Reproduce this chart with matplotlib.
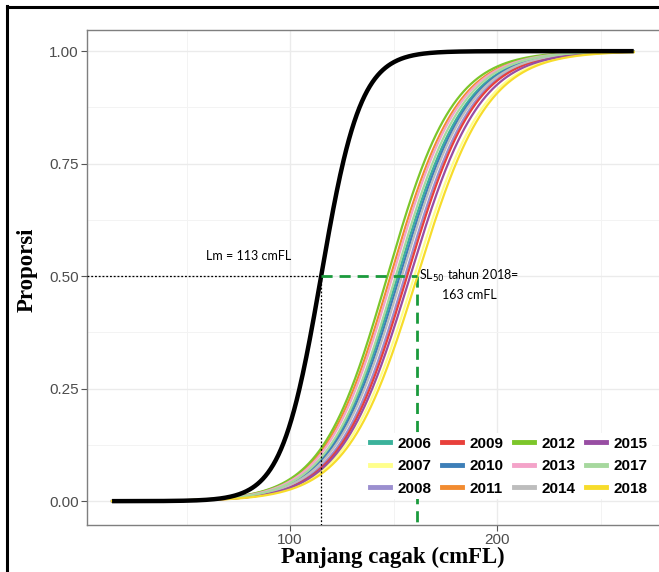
import numpy as np
import matplotlib
matplotlib.use("Agg")
import matplotlib.pyplot as plt
from matplotlib.lines import Line2D

# values
years = ['2006', '2007', '2008', '2009', '2010', '2011',
         '2012', '2013', '2014', '2015', '2017', '2018']
l50 = [152.0, 160.0, 155.5, 156.5, 153.0, 148.5,
       147.0, 149.5, 154.0, 158.0, 151.0, 161.5]
slope = [0.061, 0.059, 0.061, 0.061, 0.061, 0.062,
         0.063, 0.062, 0.061, 0.060, 0.062, 0.059]
colors = ['#3bb29b', '#ffff8c', '#9b8fcf', '#e8403b', '#3d7fb8', '#f28b30',
          '#7cc62a', '#f4a3c9', '#bdbdbd', '#984ea3', '#a6d89e', '#f7dc2b']

lm_l50 = 115.0     # maturity curve (Lm)
lm_slope = 0.105
length_min, length_max = 14, 266

lm_text = 'Lm = 113 cmFL'
sl_text = 'SL$_{50}$ tahun 2018=\n163 cmFL'

length = np.linspace(length_min, length_max, 600)

fig = plt.figure(figsize=(6.59, 5.72), dpi=100)
ax = fig.add_axes([87/659, 1 - 525/572, 608/659, 495/572])
ax.set_xlim(1.9, 295.6)
ax.set_ylim(-0.053, 1.047)

# grid like ggplot theme_bw
ax.set_xticks([100, 200])
ax.set_xticks([50, 150, 250], minor=True)
ax.set_yticks([0, 0.25, 0.5, 0.75, 1.0])
ax.set_yticks([0.125, 0.375, 0.625, 0.875], minor=True)
ax.set_yticklabels(['0.00', '0.25', '0.50', '0.75', '1.00'])
ax.grid(True, which='major', color='#ebebeb', lw=1.0)
ax.grid(True, which='minor', color='#f3f3f3', lw=0.7)
ax.set_axisbelow(True)
for s in ax.spines.values():
    s.set_color('#7f7f7f')
    s.set_linewidth(1.0)
ax.tick_params(which='major', length=4, color='#555555', labelcolor='#4d4d4d',
               labelsize=11, width=0.8, pad=2)
ax.tick_params(which='minor', length=0)
for lab in ax.get_xticklabels() + ax.get_yticklabels():
    lab.set_family('Liberation Sans')

# selectivity curves per year
handles = []
for yr, m, k, c in zip(years, l50, slope, colors):
    p = 1 / (1 + np.exp(-k * (length - m)))
    ax.plot(length, p, color=c, lw=1.6, zorder=3)
    handles.append(Line2D([], [], color=c, lw=3.5))

# maturity curve
p_lm = 1 / (1 + np.exp(-lm_slope * (length - lm_l50)))
ax.plot(length, p_lm, color='black', lw=3.2, zorder=4, solid_capstyle='butt')

# reference lines
x0 = ax.get_xlim()[0]
y0 = ax.get_ylim()[0]
ax.plot([x0, lm_l50], [0.5, 0.5], color='black', lw=0.9, ls=(0, (1.5, 1.5)), zorder=5)
ax.plot([lm_l50, lm_l50], [0.5, y0], color='black', lw=0.9, ls=(0, (1.5, 1.5)), zorder=5)
sl = l50[-1]
ax.plot([lm_l50, sl], [0.5, 0.5], color='#1a9a3c', lw=2.0, ls=(0, (4, 2.5)), zorder=5)
ax.plot([sl, sl], [0.5, y0], color='#1a9a3c', lw=2.0, ls=(0, (4, 2.5)), zorder=2)

ax.text(80, 0.545, lm_text, fontsize=9, family='Lato', ha='center', va='center', zorder=6)
ax.text(sl + 1, 0.482, sl_text, fontsize=9, family='Lato', ha='left', va='center',
        linespacing=1.45, multialignment='center', zorder=6)

# order column by column like the reference
leg = ax.legend(handles, years, ncol=4, loc='upper left',
                bbox_to_anchor=(366/659, 1 - 433/572), bbox_transform=fig.transFigure,
                frameon=True, fancybox=False, framealpha=1, edgecolor='none',
                prop={'family': 'Liberation Sans', 'weight': 'bold', 'size': 11},
                handlelength=1.3, handletextpad=0.5, columnspacing=0.7,
                labelspacing=0.55, borderpad=0.25, borderaxespad=0)
leg.set_zorder(7)

fig.text(393/659, 1 - 563/572, 'Panjang cagak (cmFL)', family='Liberation Serif',
         weight='bold', fontsize=16.5, ha='center', va='baseline')
fig.text(27/659, 1 - 270/572, 'Proporsi', family='Liberation Serif',
         weight='bold', fontsize=16.5, ha='center', va='center', rotation=90)

# black frame of the original image (left and top edges)
fig.add_artist(Line2D([7/659, 7/659], [0, 1 - 6/572], color='black', lw=2.2,
                      transform=fig.transFigure))
fig.add_artist(Line2D([7/659, 1], [1 - 7/572, 1 - 7/572], color='black', lw=2.2,
                      transform=fig.transFigure))

fig.savefig('out.png', dpi=100)
